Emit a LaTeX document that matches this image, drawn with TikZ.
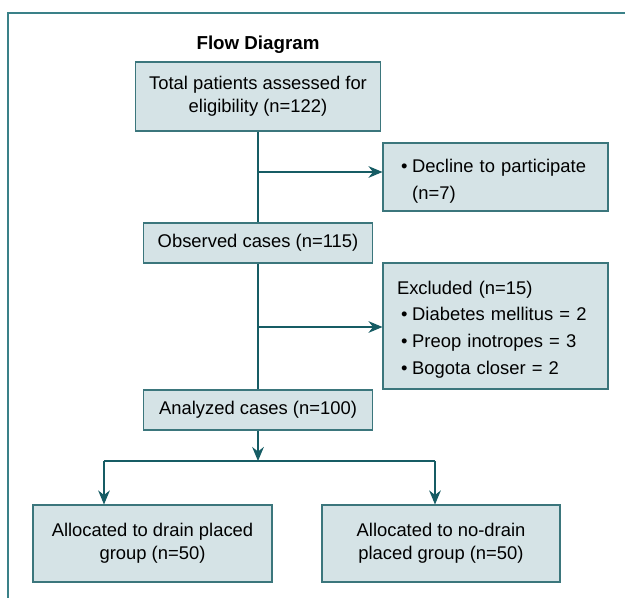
\documentclass[tikz,border=0pt]{standalone}
\usepackage{fontspec}
\setmainfont{Liberation Sans}
\usetikzlibrary{arrows.meta}
\definecolor{boxfill}{HTML}{D5E3E6}
\definecolor{boxline}{HTML}{3B767C}
\definecolor{arrowline}{HTML}{165C64}
\definecolor{frameline}{HTML}{3A8188}
\tikzset{
  box/.style={draw=boxline, fill=boxfill, line width=0.9pt, align=center, inner sep=0pt,
    font=\fontsize{15.7}{19.6}\selectfont},
  listbox/.style={box, align=left, inner xsep=0.42cm},
  link/.style={draw=arrowline, line width=1pt},
  arrow/.style={link, -{Stealth[length=12pt,width=10pt]}}
}
\begin{document}
\begin{tikzpicture}[x=0.03cm,y=-0.03cm]
\useasboundingbox (0,0) rectangle (625,598);
\draw[frameline, line width=0.9pt] (8,598) -- (8,13) -- (625,13);
\node[font=\fontsize{16}{19}\selectfont\bfseries] (title) at (258,45) {Flow Diagram};
\node[box, minimum width=7.35cm, minimum height=2.07cm] (total) at (258,96.5) {Total patients assessed for\\eligibility (n=122)};
\node[listbox, text width=5.91cm, minimum height=2.04cm] (decline) at (495.5,177)
  {\raisebox{-3pt}[\height][\depth]{\renewcommand{\arraystretch}{1.17}\begin{tabular}{@{\hspace{3.5pt}}l@{\hspace{4pt}}l@{}}\textbullet & Decline to participate\\ & (n=7)\end{tabular}}};
\node[box, minimum width=6.87cm, minimum height=1.2cm] (observed) at (258,243) {Observed cases (n=115)};
\node[listbox, text width=5.91cm, minimum height=3.78cm] (excluded) at (495.5,326)
  {\raisebox{-2.6pt}[\height][\depth]{\renewcommand{\arraystretch}{1.17}\begin{tabular}{@{\hspace{3.5pt}}l@{\hspace{4pt}}l@{}}\multicolumn{2}{@{}l@{}}{Excluded (n=15)}\\
   \textbullet & Diabetes mellitus = 2\\ \textbullet & Preop inotropes = 3\\ \textbullet & Bogota closer = 2\end{tabular}}};
\node[box, minimum width=6.87cm, minimum height=1.2cm] (analyzed) at (258,410) {Analyzed cases (n=100)};
\node[box, minimum width=7.17cm, minimum height=2.31cm] (drain) at (152.5,543.5) {Allocated to drain placed\\group (n=50)};
\node[box, minimum width=7.14cm, minimum height=2.31cm] (nodrain) at (441,543.5) {Allocated to no-drain\\placed group (n=50)};
\coordinate (b1) at (258,172);
\coordinate (b2) at (258,327);
\coordinate (split) at (258,461);
\coordinate (splitl) at (104,461);
\coordinate (splitr) at (435,461);
\draw[link] (total.south) -- (observed.north);
\draw[link] (observed.south) -- (analyzed.north);
\draw[arrow] (b1) -- (b1 -| decline.west);
\draw[arrow] (b2) -- (b2 -| excluded.west);
\draw[arrow] (analyzed.south) -- (split);
\draw[link] (splitl) -- (splitr);
\draw[arrow] (splitl) -- (splitl |- drain.north);
\draw[arrow] (splitr) -- (splitr |- nodrain.north);
\end{tikzpicture}
\end{document}
